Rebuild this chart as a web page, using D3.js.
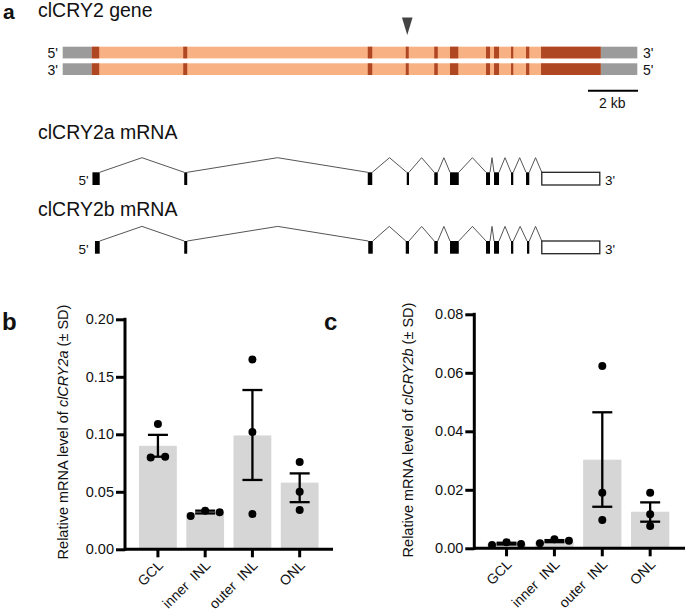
<!DOCTYPE html>
<html><head><meta charset="utf-8">
<script src="https://cdn.jsdelivr.net/npm/d3@7"></script>
<style>
body{margin:0;background:#fff}
svg{display:block}
text{font-family:Arial,"Liberation Sans",Helvetica,sans-serif;fill:#111;white-space:pre}
</style>
</head><body>
<svg id="fig" width="689" height="615"></svg>
<script>
// ---------------- DATA ----------------
// gene structure (kb from the 5' end of the drawn region)
const geneLengthKb = 22.98;
const flank5 = [0, 1.16];
const flank3 = [21.52, 22.98];
const exonStart = [1.16, 4.82, 12.20, 13.72, 14.86, 15.49, 16.93, 17.25, 17.93, 18.53, 19.13];
const exonEnd   = [1.46, 4.98, 12.38, 13.84, 15.00, 15.82, 17.09, 17.45, 18.02, 18.66, 21.52];
const arrowExon = 3;          // index of the alternatively spliced exon (arrowhead)
const scaleBarKb = 2;
// mRNA isoforms (exon coordinates, kb)
const mrnaAStart = [1.19, 4.86, 12.20, 13.76, 14.86, 15.49, 16.93, 17.25, 17.93, 18.53, 19.16];
const mrnaAEnd   = [1.48, 4.98, 12.38, 13.85, 15.00, 15.84, 17.09, 17.45, 18.02, 18.66, 21.48];
const mrnaBStart = [1.29, 4.86, 12.22, 13.72, 14.86, 15.49, 16.93, 17.25, 17.93, 18.57, 19.16];
const mrnaBEnd   = [1.48, 4.98, 12.40, 13.85, 15.00, 15.84, 17.09, 17.45, 18.02, 18.66, 21.48];

// bar charts
const layers = ["GCL", "inner  INL", "outer  INL", "ONL"];
const cry2aMean  = [0.090, 0.032, 0.099, 0.058];
const cry2aErrHi = [0.0995, 0.0336, 0.1385, 0.066];
const cry2aErrLo = [0.0805, 0.0312, 0.0603, 0.041];
const cry2aPoints = [[0.109, 0.0798, 0.0805], [0.029, 0.0336, 0.0322], [0.165, 0.102, 0.0307], [0.0759, 0.0501, 0.0342]];
const cry2aTicks = [0, 0.05, 0.10, 0.15, 0.20];

const cry2bMean  = [0.0016, 0.0024, 0.0303, 0.0125];
const cry2bErrHi = [0.0019, 0.0028, 0.0465, 0.0157];
const cry2bErrLo = [0.0013, 0.0021, 0.0142, 0.0091];
const cry2bPoints = [[0.0011, 0.0021, 0.0015], [0.0017, 0.0031, 0.0026], [0.0623, 0.019, 0.0097], [0.019, 0.0116, 0.0076]];
const cry2bTicks = [0, 0.02, 0.04, 0.06, 0.08];

// ---------------- DRAW ----------------
const svg = d3.select("#fig");
const C_ORANGE = "#f8b183", C_DARK = "#b04723", C_GRAY = "#9b9b9b", C_BAR = "#d6d6d6";

// panel letters
const letter = (t, x, y, s) => svg.append("text").attr("x", x).attr("y", y)
  .attr("font-size", s).attr("font-weight", "bold").text(t);
letter("a", 3, 19, 21);
letter("b", 2, 330, 24);
letter("c", 324, 330, 24);

// ---- gene diagram ----
const kx = d3.scaleLinear().domain([0, geneLengthKb]).range([62.7, 637.3]);
svg.append("text").attr("x", 38).attr("y", 17).attr("font-size", 19.5).text("clCRY2 gene");

const strands = [{y: 46.7, l: "5'", r: "3'"}, {y: 63.3, l: "3'", r: "5'"}];
const sh = 11.7;
strands.forEach(s => {
  const g = svg.append("g");
  g.append("rect").attr("x", kx(flank5[1])).attr("y", s.y).attr("width", kx(flank3[0]) - kx(flank5[1])).attr("height", sh).attr("fill", C_ORANGE);
  [flank5, flank3].forEach(f => g.append("rect").attr("x", kx(f[0])).attr("y", s.y)
    .attr("width", kx(f[1]) - kx(f[0])).attr("height", sh).attr("fill", C_GRAY));
  g.selectAll("rect.ex").data(exonStart).join("rect").attr("class", "ex")
    .attr("x", (d) => kx(d)).attr("y", s.y)
    .attr("width", (d, i) => kx(exonEnd[i]) - kx(d)).attr("height", sh).attr("fill", C_DARK);
  g.append("text").attr("x", 58).attr("y", s.y + sh - 0.5).attr("text-anchor", "end").attr("font-size", 14).text(s.l);
  g.append("text").attr("x", 643).attr("y", s.y + sh - 0.5).attr("font-size", 14).text(s.r);
});
// arrowhead
const ax = kx((exonStart[arrowExon] + exonEnd[arrowExon]) / 2);
svg.append("path").attr("d", `M${ax - 5.3},17.5 L${ax + 5.3},17.5 L${ax},35 Z`).attr("fill", "#444");
// scale bar
svg.append("line").attr("x1", kx(geneLengthKb - scaleBarKb) + 0.7).attr("x2", kx(geneLengthKb) + 0.7)
  .attr("y1", 90.7).attr("y2", 90.7).attr("stroke", "#000").attr("stroke-width", 2);
svg.append("text").attr("x", kx(geneLengthKb - scaleBarKb / 2)).attr("y", 108).attr("text-anchor", "middle")
  .attr("font-size", 14).text(scaleBarKb + " kb");

// ---- mRNA diagrams ----
function drawMRNA(title, titleY, top, starts, ends) {
  svg.append("text").attr("x", 38).attr("y", titleY).attr("font-size", 19.5).text(title);
  const h = 12.7, peak = top - 14.6;
  const g = svg.append("g");
  // introns
  for (let i = 0; i < starts.length - 1; i++) {
    const x1 = kx(ends[i]), x2 = kx(starts[i + 1]);
    g.append("path").attr("d", `M${x1},${top} L${(x1 + x2) / 2},${peak} L${x2},${top}`)
      .attr("fill", "none").attr("stroke", "#555").attr("stroke-width", 1);
  }
  starts.forEach((s, i) => {
    const last = i === starts.length - 1;
    g.append("rect").attr("x", kx(s)).attr("y", top)
      .attr("width", kx(ends[i]) - kx(s)).attr("height", h)
      .attr("fill", last ? "#fff" : "#000").attr("stroke", last ? "#222" : "none").attr("stroke-width", 1.3);
  });
  g.append("text").attr("x", 88.5).attr("y", top + h).attr("text-anchor", "end").attr("font-size", 13.5).text("5'");
  g.append("text").attr("x", 605).attr("y", top + h).attr("font-size", 13.5).text("3'");
}
drawMRNA("clCRY2a mRNA", 139, 172.3, mrnaAStart, mrnaAEnd);
drawMRNA("clCRY2b mRNA", 215.5, 241, mrnaBStart, mrnaBEnd);

// ---- bar charts ----
function barChart(o) {
  const g = svg.append("g");
  const y = d3.scaleLinear().domain(o.domain).range([o.y0, o.y1]);
  const x = d3.scaleBand().domain(layers).range([o.bx0, o.bx1]).paddingInner(0.2).paddingOuter(0.1);
  // bars
  g.selectAll("rect.bar").data(o.mean).join("rect").attr("class", "bar")
    .attr("x", (d, i) => x(layers[i])).attr("width", x.bandwidth())
    .attr("y", d => y(d)).attr("height", d => y(0) - y(d)).attr("fill", C_BAR);
  // error bars
  const cx = i => x(layers[i]) + x.bandwidth() / 2;
  o.mean.forEach((m, i) => {
    const e = g.append("g").attr("stroke", "#000").attr("stroke-width", 2.3);
    e.append("line").attr("x1", cx(i)).attr("x2", cx(i)).attr("y1", y(o.hi[i])).attr("y2", y(o.lo[i]));
    [o.hi[i], o.lo[i]].forEach(v => e.append("line").attr("x1", cx(i) - 10).attr("x2", cx(i) + 10)
      .attr("y1", y(v)).attr("y2", y(v)));
  });
  // points, spread horizontally where they overlap
  const r = 4, spacing = 14.5;
  o.points.forEach((pts, i) => {
    const idx = pts.map((v, k) => k).sort((a, b) => pts[a] - pts[b]);
    const clusters = [];
    idx.forEach(k => {
      const c = clusters[clusters.length - 1];
      if (c && Math.abs(y(pts[c[c.length - 1]]) - y(pts[k])) < 2 * r) c.push(k); else clusters.push([k]);
    });
    clusters.forEach(c => {
      c.sort((a, b) => a - b);
      c.forEach((k, j) => {
        g.append("circle").attr("cx", cx(i) + (j - (c.length - 1) / 2) * spacing)
          .attr("cy", y(pts[k])).attr("r", r).attr("fill", "#000");
      });
    });
  });
  // y axis
  const ya = g.append("g").attr("transform", `translate(${o.ax},0)`)
    .call(d3.axisLeft(y).tickValues(o.ticks).tickFormat(d3.format(".2f")).tickSize(9).tickSizeOuter(0).tickPadding(2));
  ya.selectAll("path,line").attr("stroke", "#000").attr("stroke-width", 3);
  ya.selectAll("text").attr("font-size", 14.5).attr("fill", "#222").attr("font-family", 'Arial,"Liberation Sans",sans-serif');
  ya.select(".domain").attr("d", `M0,${y(o.domain[1]) - 1.5}V${y(0) + 1.5}`);
  // x axis
  const xa = g.append("g").attr("transform", `translate(0,${y(0)})`)
    .call(d3.axisBottom(x).tickSize(8).tickSizeOuter(0).tickFormat(""));
  xa.select(".domain").attr("d", `M${o.ax},0H${o.axEnd}`);
  xa.selectAll("path,line").attr("stroke", "#000").attr("stroke-width", 3);
  layers.forEach((l, i) => {
    g.append("text").attr("transform", `translate(${cx(i) + 6},${y(0) + 17}) rotate(-45)`)
      .attr("text-anchor", "end").attr("font-size", 14).style("white-space", "pre").text(l);
  });
  // y label
  const t = g.append("text").attr("transform", `translate(${o.labX},${o.labY}) rotate(-90)`)
    .attr("text-anchor", "middle").attr("font-size", 14.5);
  t.append("tspan").text("Relative mRNA level of ");
  t.append("tspan").attr("font-style", "italic").text(o.gene);
  t.append("tspan").text(" (± SD)");
}

barChart({domain: [0, 0.2], y0: 549.3, y1: 319.3, bx0: 134.3, bx1: 323.3, ax: 125, axEnd: 333,
  mean: cry2aMean, hi: cry2aErrHi, lo: cry2aErrLo, points: cry2aPoints, ticks: cry2aTicks,
  gene: "clCRY2a", labX: 68, labY: 432});
barChart({domain: [0, 0.08], y0: 548.3, y1: 314.3, bx0: 482.6, bx1: 674.1, ax: 474.3, axEnd: 685,
  mean: cry2bMean, hi: cry2bErrHi, lo: cry2bErrLo, points: cry2bPoints, ticks: cry2bTicks,
  gene: "clCRY2b", labX: 413, labY: 430});
</script>
</body></html>
